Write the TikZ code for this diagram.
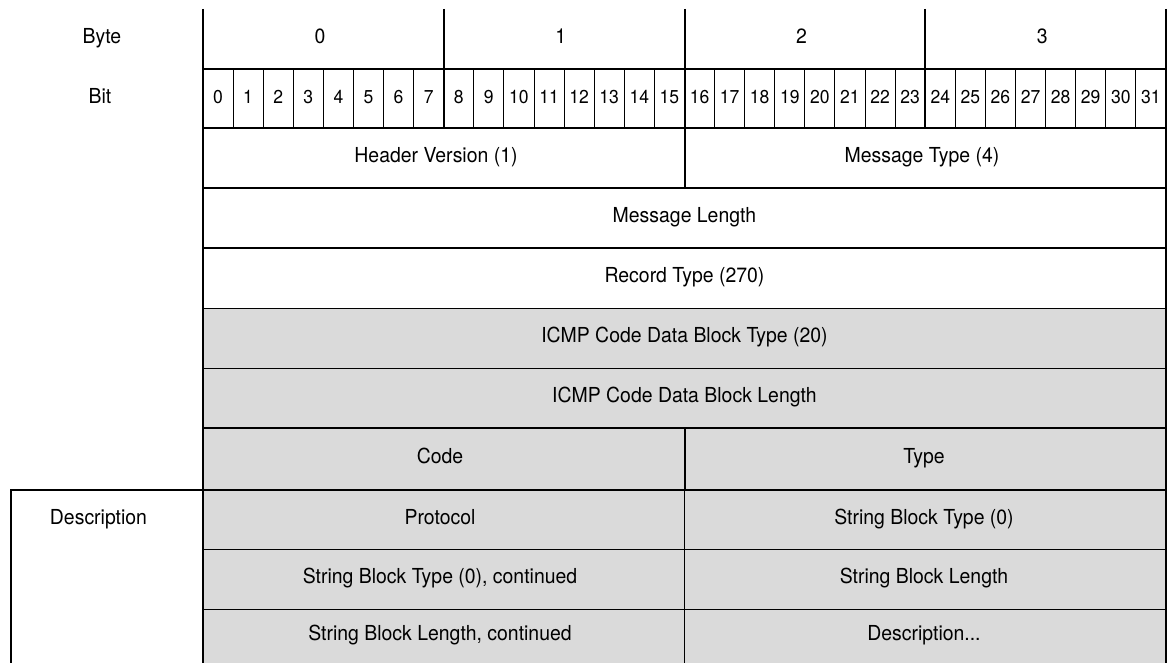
\documentclass[tikz,border=0pt]{standalone}
\usepackage{fontspec}
\setmainfont{TeX Gyre Heros}[FakeStretch=0.94]
\usepackage{xcolor}
\usepackage{tikz}
\definecolor{fieldgray}{HTML}{DADADA}
\newcommand{\fieldfont}{\fontsize{15.5}{18}\selectfont}
\tikzset{
  heavyrule/.style={line width=1.5pt,black},
  lightrule/.style={line width=0.75pt,black},
  cell/.style={inner sep=0pt,text height=1.39ex,text depth=0pt,font=\fieldfont},
  bitcell/.style={cell,font=\fontsize{14}{16}\selectfont}
}

\begin{document}
\begin{tikzpicture}[x=0.75pt,y=-0.75pt]
  \useasboundingbox (0,0) rectangle (1168,663);
  % shaded part of the record
  \fill[fieldgray] (203,308) rectangle (1166,663);
  % bit and field rules
  \foreach \k in {1,...,31}
    \draw[lightrule] (203+\k*30.094,69) -- (203+\k*30.094,128);
  \foreach \y in {308,368,549,609}
    \draw[lightrule] (203,\y) -- (1166,\y);
  \draw[lightrule] (684.5,490) -- (684.5,663);
  \foreach \b in {1,2,3}
    \draw[heavyrule] (203+\b*240.75,9) -- (203+\b*240.75,128);
  \foreach \y in {69,128,188,248,428,490}
    \draw[heavyrule] (203,\y) -- (1166,\y);
  \draw[heavyrule] (684.5,128) -- (684.5,188);
  \draw[heavyrule] (684.5,428) -- (684.5,490);
  \draw[heavyrule] (203,9) -- (203,663);
  \draw[heavyrule] (1166,9) -- (1166,663);
  % description box on the left
  \draw[heavyrule] (11,663) -- (11,490) -- (203,490);

  \node[cell] (bytelbl) at (102,39) {Byte};
  \node[cell] (bitlbl) at (100,98.5) {Bit};
  \node[cell] (desclbl) at (98.5,519.5) {Description};
  \foreach \b in {0,...,3}
    \node[cell] (byte\b) at (320+\b*240.75,39) {\b};
  \foreach \k in {0,...,31}
    \node[bitcell] (bit\k) at (218+\k*30.094,98.5) {\k};

  \node[cell] (hdrver) at (436,158) {Header Version (1)};
  \node[cell] (msgtype) at (922,158) {Message Type (4)};
  \node[cell] (msglen) at (684.5,218) {Message Length};
  \node[cell] (rectype) at (684.5,278) {Record Type (270)};
  \node[cell] (icmptype) at (684.5,338) {ICMP Code Data Block Type (20)};
  \node[cell] (icmplen) at (684.5,398) {ICMP Code Data Block Length};
  \node[cell] (code) at (440,459) {Code};
  \node[cell] (type) at (924,459) {Type};
  \node[cell] (proto) at (440,519.5) {Protocol};
  \node[cell] (sbtype) at (924,519.5) {String Block Type (0)};
  \node[cell] (sbtypecont) at (440,579) {String Block Type (0), continued};
  \node[cell] (sblen) at (924,579) {String Block Length};
  \node[cell] (sblencont) at (440,636) {String Block Length, continued};
  \node[cell] (descr) at (924,636) {Description...};
\end{tikzpicture}
\end{document}
